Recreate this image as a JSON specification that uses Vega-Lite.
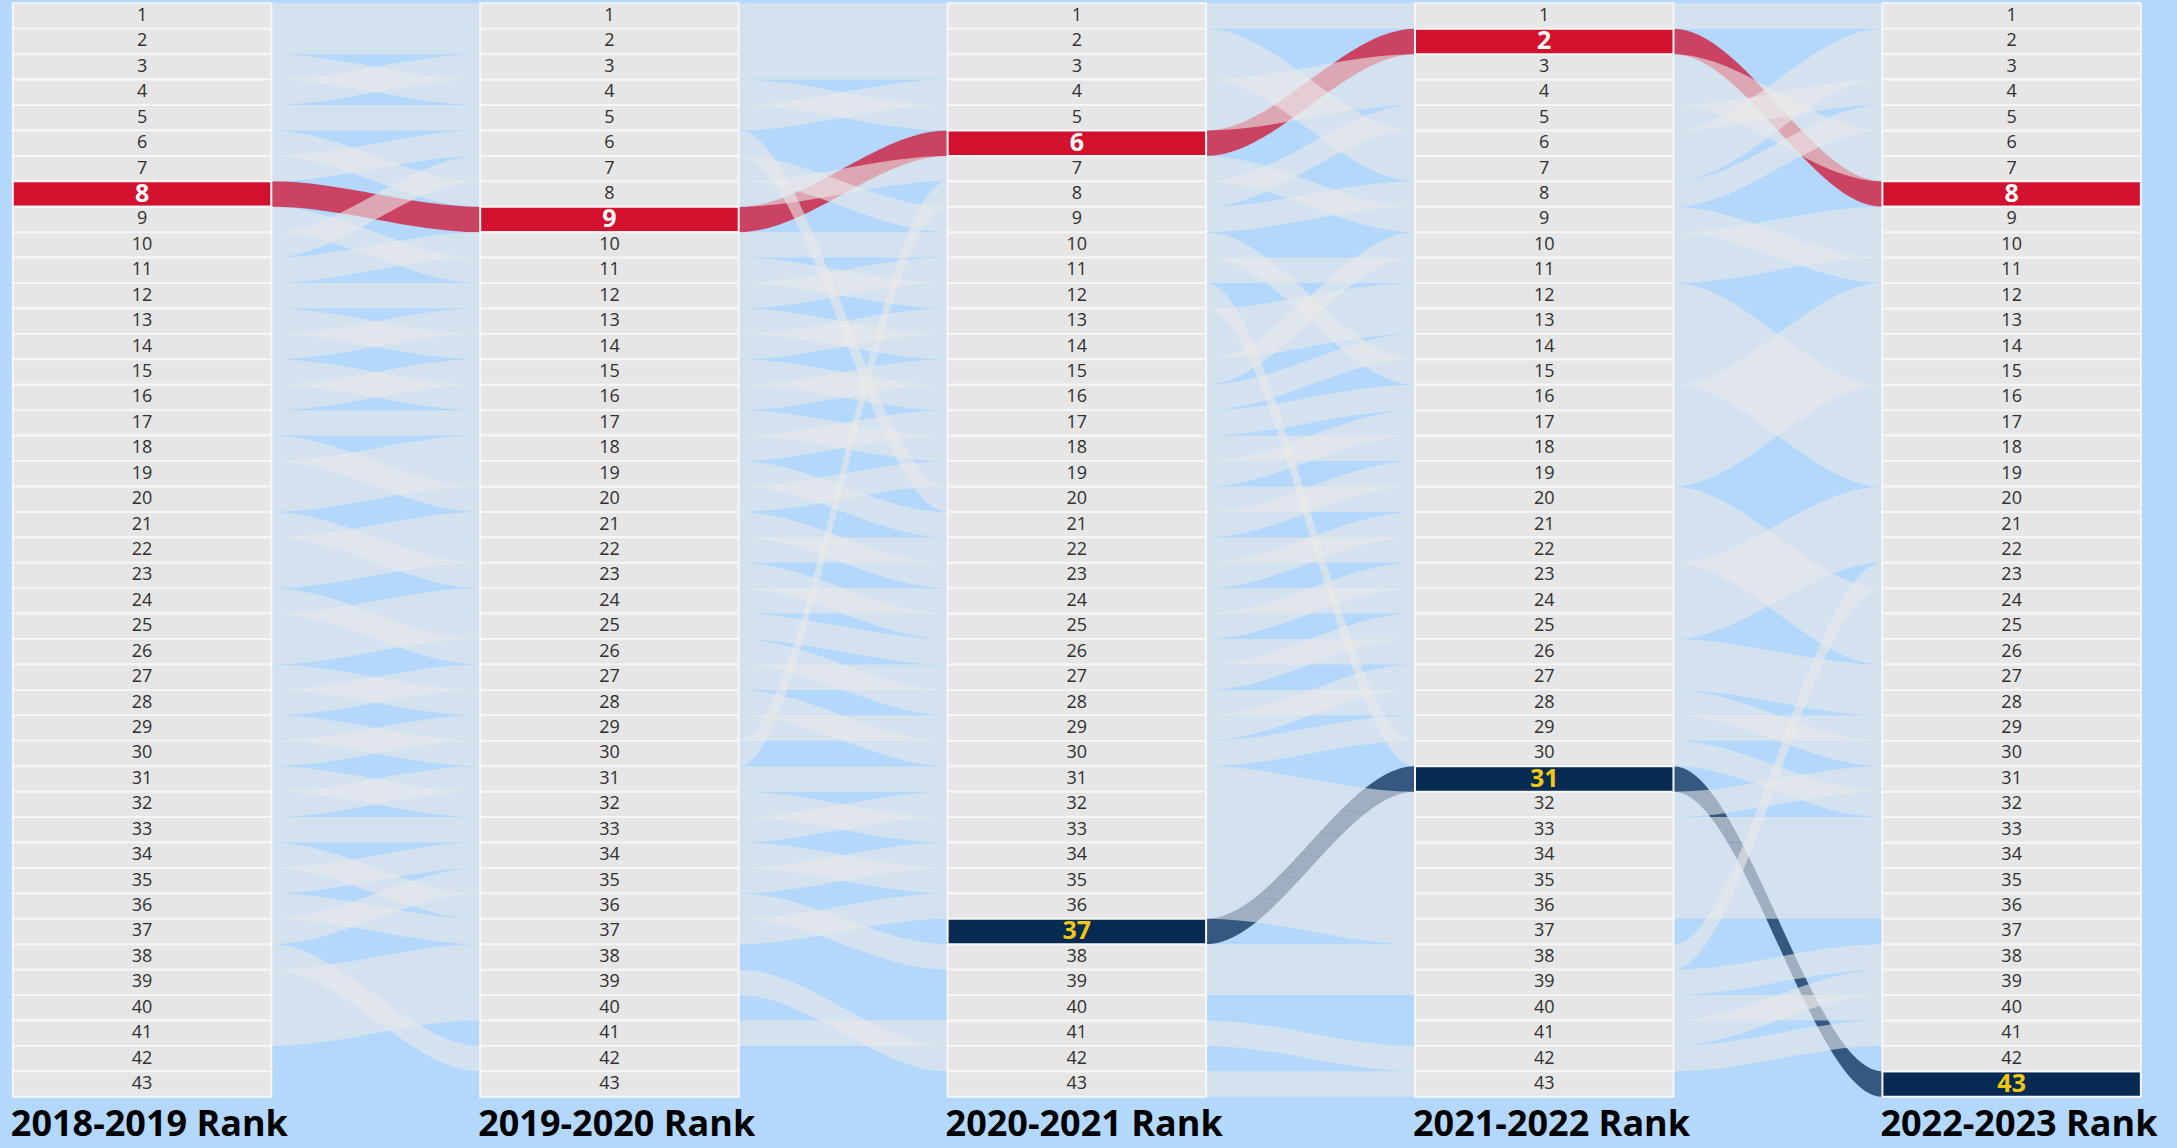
{
  "$schema": "https://vega.github.io/schema/vega-lite/v6.json",
  "width": 2177,
  "height": 1148,
  "padding": 0,
  "autosize": {"type": "none"},
  "background": "#b3d8fb",
  "config": {"view": {"stroke": null}},
  "data": {
    "values": [
      {"team": "T1", "2018-2019": 1, "2019-2020": 1, "2020-2021": 1, "2021-2022": 1, "2022-2023": 1},
      {"team": "T2", "2018-2019": 2, "2019-2020": 2, "2020-2021": 2, "2021-2022": 6, "2022-2023": 2},
      {"team": "T3", "2018-2019": 3, "2019-2020": 4, "2020-2021": 5, "2021-2022": 4, "2022-2023": 7},
      {"team": "T4", "2018-2019": 4, "2019-2020": 3, "2020-2021": 3, "2021-2022": 7, "2022-2023": 3},
      {"team": "T5", "2018-2019": 5, "2019-2020": 5, "2020-2021": 4, "2021-2022": 3, "2022-2023": 6},
      {"team": "T6", "2018-2019": 6, "2019-2020": 8, "2020-2021": 7, "2021-2022": 9, "2022-2023": 11},
      {"team": "T7", "2018-2019": 7, "2019-2020": 6, "2020-2021": 20, "2021-2022": 20, "2022-2023": 24},
      {"team": "T8", "2018-2019": 8, "2019-2020": 9, "2020-2021": 6, "2021-2022": 2, "2022-2023": 8},
      {"team": "T9", "2018-2019": 9, "2019-2020": 11, "2020-2021": 12, "2021-2022": 30, "2022-2023": 32},
      {"team": "T10", "2018-2019": 10, "2019-2020": 7, "2020-2021": 9, "2021-2022": 8, "2022-2023": 5},
      {"team": "T11", "2018-2019": 11, "2019-2020": 10, "2020-2021": 10, "2021-2022": 15, "2022-2023": 19},
      {"team": "T12", "2018-2019": 12, "2019-2020": 12, "2020-2021": 11, "2021-2022": 11, "2022-2023": 10},
      {"team": "T13", "2018-2019": 13, "2019-2020": 14, "2020-2021": 13, "2021-2022": 12, "2022-2023": 16},
      {"team": "T14", "2018-2019": 14, "2019-2020": 13, "2020-2021": 14, "2021-2022": 13, "2022-2023": 17},
      {"team": "T15", "2018-2019": 15, "2019-2020": 16, "2020-2021": 15, "2021-2022": 10, "2022-2023": 9},
      {"team": "T16", "2018-2019": 16, "2019-2020": 15, "2020-2021": 16, "2021-2022": 14, "2022-2023": 18},
      {"team": "T17", "2018-2019": 17, "2019-2020": 17, "2020-2021": 18, "2021-2022": 18, "2022-2023": 14},
      {"team": "T18", "2018-2019": 18, "2019-2020": 20, "2020-2021": 19, "2021-2022": 17, "2022-2023": 13},
      {"team": "T19", "2018-2019": 19, "2019-2020": 18, "2020-2021": 17, "2021-2022": 16, "2022-2023": 12},
      {"team": "T20", "2018-2019": 20, "2019-2020": 19, "2020-2021": 21, "2021-2022": 19, "2022-2023": 15},
      {"team": "T21", "2018-2019": 21, "2019-2020": 23, "2020-2021": 25, "2021-2022": 23, "2022-2023": 20},
      {"team": "T22", "2018-2019": 22, "2019-2020": 21, "2020-2021": 23, "2021-2022": 21, "2022-2023": 25},
      {"team": "T23", "2018-2019": 23, "2019-2020": 22, "2020-2021": 22, "2021-2022": 22, "2022-2023": 26},
      {"team": "T24", "2018-2019": 24, "2019-2020": 26, "2020-2021": 28, "2021-2022": 28, "2022-2023": 30},
      {"team": "T25", "2018-2019": 25, "2019-2020": 24, "2020-2021": 24, "2021-2022": 24, "2022-2023": 21},
      {"team": "T26", "2018-2019": 26, "2019-2020": 25, "2020-2021": 26, "2021-2022": 26, "2022-2023": 27},
      {"team": "T27", "2018-2019": 27, "2019-2020": 28, "2020-2021": 30, "2021-2022": 29, "2022-2023": 29},
      {"team": "T28", "2018-2019": 28, "2019-2020": 27, "2020-2021": 27, "2021-2022": 25, "2022-2023": 22},
      {"team": "T29", "2018-2019": 29, "2019-2020": 30, "2020-2021": 8, "2021-2022": 5, "2022-2023": 4},
      {"team": "T30", "2018-2019": 30, "2019-2020": 29, "2020-2021": 29, "2021-2022": 27, "2022-2023": 28},
      {"team": "T31", "2018-2019": 31, "2019-2020": 32, "2020-2021": 33, "2021-2022": 34, "2022-2023": 34},
      {"team": "T32", "2018-2019": 32, "2019-2020": 31, "2020-2021": 31, "2021-2022": 32, "2022-2023": 31},
      {"team": "T33", "2018-2019": 33, "2019-2020": 33, "2020-2021": 32, "2021-2022": 33, "2022-2023": 33},
      {"team": "T34", "2018-2019": 34, "2019-2020": 36, "2020-2021": 38, "2021-2022": 38, "2022-2023": 23},
      {"team": "T35", "2018-2019": 35, "2019-2020": 34, "2020-2021": 35, "2021-2022": 36, "2022-2023": 36},
      {"team": "T36", "2018-2019": 36, "2019-2020": 37, "2020-2021": 36, "2021-2022": 37, "2022-2023": null},
      {"team": "T37", "2018-2019": 37, "2019-2020": 35, "2020-2021": 34, "2021-2022": 35, "2022-2023": 35},
      {"team": "T38", "2018-2019": 38, "2019-2020": 42, "2020-2021": null, "2021-2022": null, "2022-2023": null},
      {"team": "T39", "2018-2019": 39, "2019-2020": 38, "2020-2021": null, "2021-2022": null, "2022-2023": null},
      {"team": "T40", "2018-2019": 40, "2019-2020": 39, "2020-2021": 42, "2021-2022": null, "2022-2023": null},
      {"team": "T41", "2018-2019": 41, "2019-2020": 40, "2020-2021": null, "2021-2022": null, "2022-2023": null},
      {"team": "T42", "2018-2019": 42, "2019-2020": null, "2020-2021": null, "2021-2022": null, "2022-2023": null},
      {"team": "T43", "2018-2019": 43, "2019-2020": null, "2020-2021": null, "2021-2022": null, "2022-2023": null},
      {"team": "T44", "2018-2019": null, "2019-2020": 41, "2020-2021": 41, "2021-2022": 42, "2022-2023": 41},
      {"team": "T45", "2018-2019": null, "2019-2020": 43, "2020-2021": null, "2021-2022": null, "2022-2023": null},
      {"team": "T46", "2018-2019": null, "2019-2020": null, "2020-2021": 37, "2021-2022": 31, "2022-2023": 43},
      {"team": "T47", "2018-2019": null, "2019-2020": null, "2020-2021": 39, "2021-2022": 39, "2022-2023": 38},
      {"team": "T48", "2018-2019": null, "2019-2020": null, "2020-2021": 40, "2021-2022": null, "2022-2023": null},
      {"team": "T49", "2018-2019": null, "2019-2020": null, "2020-2021": 43, "2021-2022": 43, "2022-2023": null},
      {"team": "T50", "2018-2019": null, "2019-2020": null, "2020-2021": null, "2021-2022": 40, "2022-2023": 40},
      {"team": "T51", "2018-2019": null, "2019-2020": null, "2020-2021": null, "2021-2022": 41, "2022-2023": 39},
      {"team": "T52", "2018-2019": null, "2019-2020": null, "2020-2021": null, "2021-2022": null, "2022-2023": 37},
      {"team": "T53", "2018-2019": null, "2019-2020": null, "2020-2021": null, "2021-2022": null, "2022-2023": 42}
    ]
  },
  "transform": [
    {"fold": ["2018-2019", "2019-2020", "2020-2021", "2021-2022", "2022-2023"], "as": ["season", "rank"]},
    {"filter": "isValid(datum.rank)"},
    {"calculate": "indexof(['2018-2019','2019-2020','2020-2021','2021-2022','2022-2023'], datum.season)", "as": "col"},
    {"calculate": "datum.col + 0.553", "as": "colEnd"},
    {"calculate": "datum.col + 0.2765", "as": "colMid"},
    {"calculate": "datum.rank - 0.5", "as": "top"},
    {"calculate": "datum.rank + 0.5", "as": "bottom"}
  ],
  "layer": [
    {
      "transform": [
        {"filter": "datum.team === 'T8' || datum.team === 'T46'"},
        {"fold": ["col", "colEnd"], "as": ["edge", "xpos"]}
      ],
      "mark": {"type": "area", "interpolate": "monotone", "orient": "vertical", "opacity": 0.75},
      "encoding": {
        "x": {"field": "xpos", "type": "quantitative", "scale": {"domain": [-0.02739, 4.63029], "nice": false, "zero": false}, "axis": null},
        "y": {"field": "top", "type": "quantitative", "stack": null, "scale": {"domain": [0.3702, 45.514], "reverse": true, "nice": false, "zero": false}, "axis": null},
        "y2": {"field": "bottom"},
        "detail": {"field": "team"},
        "color": {"field": "team", "type": "nominal", "scale": {"domain": ["T8", "T46"], "range": ["#d2112f", "#0a2d56"]}, "legend": null}
      }
    },
    {
      "transform": [
        {"filter": "datum.team !== 'T8' && datum.team !== 'T46'"},
        {"fold": ["col", "colEnd"], "as": ["edge", "xpos"]}
      ],
      "mark": {"type": "area", "interpolate": "monotone", "orient": "vertical", "opacity": 0.6, "color": "#e9e9e9"},
      "encoding": {
        "x": {"field": "xpos", "type": "quantitative", "scale": {"domain": [-0.02739, 4.63029], "nice": false, "zero": false}, "axis": null},
        "y": {"field": "top", "type": "quantitative", "stack": null, "scale": {"domain": [0.3702, 45.514], "reverse": true, "nice": false, "zero": false}, "axis": null},
        "y2": {"field": "bottom"},
        "detail": {"field": "team"}
      }
    },
    {
      "mark": {"type": "rect", "stroke": "#f6f6f6", "strokeWidth": 2},
      "encoding": {
        "x": {"field": "col", "type": "quantitative", "scale": {"domain": [-0.02739, 4.63029], "nice": false, "zero": false}, "axis": null},
        "x2": {"field": "colEnd"},
        "y": {"field": "top", "type": "quantitative", "scale": {"domain": [0.3702, 45.514], "reverse": true, "nice": false, "zero": false}, "axis": null},
        "y2": {"field": "bottom"},
        "fill": {
          "condition": [
            {"test": "datum.team === 'T8'", "value": "#d2112f"},
            {"test": "datum.team === 'T46'", "value": "#062a52"}
          ],
          "value": "#e6e6e6"
        }
      }
    },
    {
      "transform": [{"filter": "datum.team !== 'T8' && datum.team !== 'T46'"}],
      "mark": {"type": "text", "font": "Open Sans", "fontSize": 18, "color": "#303030", "baseline": "middle", "align": "center"},
      "encoding": {
        "x": {"field": "colMid", "type": "quantitative", "scale": {"domain": [-0.02739, 4.63029], "nice": false, "zero": false}, "axis": null},
        "y": {"field": "rank", "type": "quantitative", "scale": {"domain": [0.3702, 45.514], "reverse": true, "nice": false, "zero": false}, "axis": null},
        "text": {"field": "rank", "type": "quantitative"}
      }
    },
    {
      "transform": [{"filter": "datum.team === 'T8' || datum.team === 'T46'"}],
      "mark": {"type": "text", "font": "Open Sans", "fontSize": 25, "fontWeight": "bold", "baseline": "middle", "align": "center"},
      "encoding": {
        "x": {"field": "colMid", "type": "quantitative", "scale": {"domain": [-0.02739, 4.63029], "nice": false, "zero": false}, "axis": null},
        "y": {"field": "rank", "type": "quantitative", "scale": {"domain": [0.3702, 45.514], "reverse": true, "nice": false, "zero": false}, "axis": null},
        "text": {"field": "rank", "type": "quantitative"},
        "color": {
          "condition": {"test": "datum.team === 'T8'", "value": "#ffffff"},
          "value": "#f2c811"
        }
      }
    },
    {
      "transform": [
        {"filter": "datum.rank === 1"},
        {"calculate": "datum.season + ' Rank'", "as": "label"}
      ],
      "mark": {"type": "text", "font": "Open Sans", "fontSize": 36, "fontWeight": "bold", "color": "#000000", "align": "left", "baseline": "alphabetic", "dx": -2},
      "encoding": {
        "x": {"field": "col", "type": "quantitative", "scale": {"domain": [-0.02739, 4.63029], "nice": false, "zero": false}, "axis": null},
        "y": {"datum": 45.04, "type": "quantitative", "scale": {"domain": [0.3702, 45.514], "reverse": true, "nice": false, "zero": false}, "axis": null},
        "text": {"field": "label"}
      }
    }
  ]
}
